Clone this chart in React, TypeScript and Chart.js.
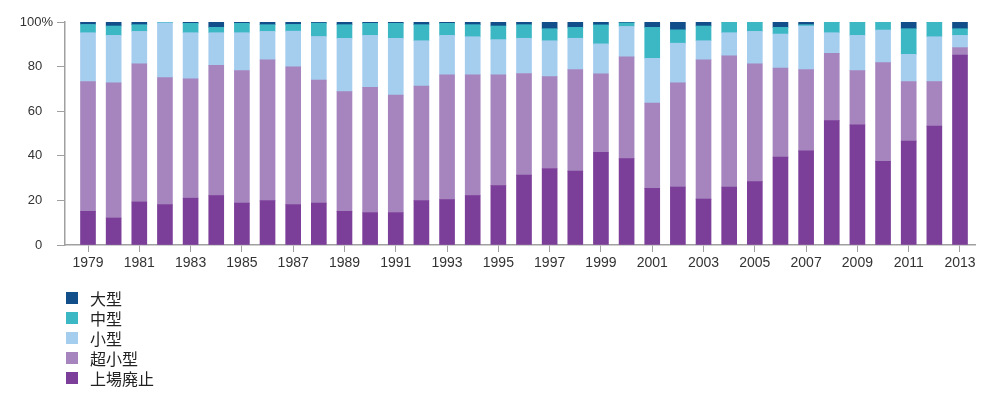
import React, { useEffect, useRef } from "react";
import { Chart, registerables } from "chart.js";

Chart.register(...registerables);

const years: number[] = [
  1979, 1980, 1981, 1982, 1983, 1984, 1985, 1986, 1987, 1988, 1989, 1990,
  1991, 1992, 1993, 1994, 1995, 1996, 1997, 1998, 1999, 2000, 2001, 2002,
  2003, 2004, 2005, 2006, 2007, 2008, 2009, 2010, 2011, 2012, 2013,
];

const delisted: number[] = [
  15.1, 12.1, 19.3, 18.1, 21.0, 22.2, 18.8, 19.9, 18.1, 18.8, 15.1, 14.5,
  14.5, 19.9, 20.4, 22.2, 26.6, 31.3, 34.3, 33.1, 41.6, 38.7, 25.4, 26.0,
  20.6, 26.0, 28.4, 39.4, 42.2, 55.8, 53.9, 37.5, 46.6, 53.3, 85.2,
];
const microSize: number[] = [
  58.2, 60.6, 61.9, 57.0, 53.5, 58.4, 59.4, 63.1, 61.8, 55.1, 53.7, 56.2,
  52.7, 51.4, 55.9, 54.1, 49.7, 45.6, 41.2, 45.6, 35.2, 45.7, 38.2, 46.7,
  62.4, 58.8, 52.8, 39.9, 36.5, 30.2, 24.3, 44.3, 26.7, 20.0, 3.3,
];
const smallSize: number[] = [
  21.9, 21.3, 14.6, 24.5, 20.7, 14.6, 17.0, 12.8, 16.0, 19.6, 23.9, 23.3,
  25.5, 20.3, 17.7, 17.1, 15.8, 15.8, 16.1, 14.0, 13.4, 13.6, 20.1, 17.8,
  8.6, 10.4, 14.6, 15.3, 19.5, 9.2, 15.8, 14.6, 12.2, 20.1, 5.5,
];
const midSize: number[] = [
  3.7, 4.2, 3.0, 0.4, 4.2, 2.4, 4.2, 3.0, 3.0, 6.0, 6.1, 5.4,
  6.7, 7.2, 5.4, 5.4, 6.1, 6.1, 5.4, 4.9, 8.5, 1.6, 13.9, 6.0,
  6.6, 4.8, 4.2, 3.0, 0.6, 4.8, 6.0, 3.6, 11.5, 6.6, 3.0,
];
const largeSize: number[] = [
  1.0, 1.8, 1.2, 0, 0.6, 2.4, 0.6, 1.2, 1.2, 0.6, 1.2, 0.6,
  0.6, 1.2, 0.6, 1.2, 1.8, 1.2, 3.0, 2.4, 1.2, 0.5, 2.4, 3.6,
  1.8, 0, 0, 2.4, 1.2, 0, 0, 0, 3.0, 0, 3.0,
];

const tickYears: number[] = [
  1979, 1981, 1983, 1985, 1987, 1989, 1991, 1993, 1995, 1997, 1999, 2001,
  2003, 2005, 2007, 2009, 2011, 2013,
];
const yTicks: number[] = [0, 20, 40, 60, 80, 100];

const seriesNames: string[] = ["上場廃止", "超小型", "小型", "中型", "大型"];
const seriesColors: string[] = ["#7c3f99", "#a684be", "#a5cdee", "#3cb8c5", "#124f8a"];
const seriesValues: number[][] = [delisted, microSize, smallSize, midSize, largeSize];

const AXIS_COLOR = "#a0a0a0";

export default function App() {
  const ref = useRef<HTMLCanvasElement | null>(null);

  useEffect(() => {
    if (!ref.current) return;
    const chart = new Chart(ref.current, {
      type: "bar",
      data: {
        datasets: seriesNames.map((name, i) => ({
          label: name,
          data: years.map((yr, j) => ({ x: yr, y: seriesValues[i][j] })),
          backgroundColor: seriesColors[i],
          borderWidth: 0,
          barThickness: 15,
        })),
      },
      options: {
        responsive: false,
        animation: false,
        devicePixelRatio: 1,
        layout: { padding: { top: 22, right: 25, bottom: 122, left: 0 } },
        plugins: { legend: { display: false }, tooltip: { enabled: false } },
        scales: {
          x: {
            type: "linear",
            stacked: true,
            offset: false,
            min: 1978.103,
            max: 2013.585,
            afterBuildTicks: (scale: any) => {
              scale.ticks = tickYears.map((v) => ({ value: v }));
            },
            afterFit: (scale: any) => {
              scale.height = 30;
            },
            grid: {
              offset: false,
              drawOnChartArea: false,
              drawTicks: true,
              tickLength: 7,
              color: AXIS_COLOR,
              lineWidth: 1,
            },
            border: { display: true, color: AXIS_COLOR, width: 1.5 },
            ticks: {
              autoSkip: false,
              maxRotation: 0,
              padding: 3,
              color: "#333",
              font: { family: "'Liberation Sans', Arial, sans-serif", size: 14 },
              callback: (v: any) => String(v),
            },
          },
          y: {
            stacked: true,
            min: 0,
            max: 100,
            afterBuildTicks: (scale: any) => {
              scale.ticks = yTicks.map((v) => ({ value: v }));
            },
            afterFit: (scale: any) => {
              scale.width = 65;
            },
            grid: {
              drawOnChartArea: false,
              drawTicks: true,
              tickLength: 8,
              color: AXIS_COLOR,
              lineWidth: 1,
            },
            border: { display: true, color: AXIS_COLOR, width: 1.5 },
            ticks: {
              padding: 4,
              color: "#333",
              font: { family: "'Liberation Sans', Arial, sans-serif", size: 13 },
              callback: (v: any) => (Number(v) === 100 ? "100%" : String(v) + "   "),
            },
          },
        },
      },
    });
    return () => chart.destroy();
  }, []);

  const legendOrder = [4, 3, 2, 1, 0];
  const legendCenters = [297.5, 317.5, 337.5, 357.5, 378];

  return (
    <div style={{ position: "absolute", left: 0, top: 0, width: 1000, height: 397, background: "#fff" }}>
      <canvas ref={ref} width={1000} height={397} style={{ display: "block", width: 1000, height: 397 }} />
      {legendOrder.map((idx, k) => (
        <div
          key={seriesNames[idx]}
          style={{
            position: "absolute",
            left: 66,
            top: legendCenters[k] - 10,
            height: 20,
            display: "flex",
            alignItems: "center",
            fontFamily: "'Noto Sans CJK JP', 'Noto Sans', sans-serif",
            fontSize: 16,
            color: "#222",
            whiteSpace: "nowrap",
          }}
        >
          <span style={{ display: "inline-block", width: 12, height: 12, background: seriesColors[idx], marginRight: 12 }} />
          <span style={{ lineHeight: "20px" }}>{seriesNames[idx]}</span>
        </div>
      ))}
    </div>
  );
}
